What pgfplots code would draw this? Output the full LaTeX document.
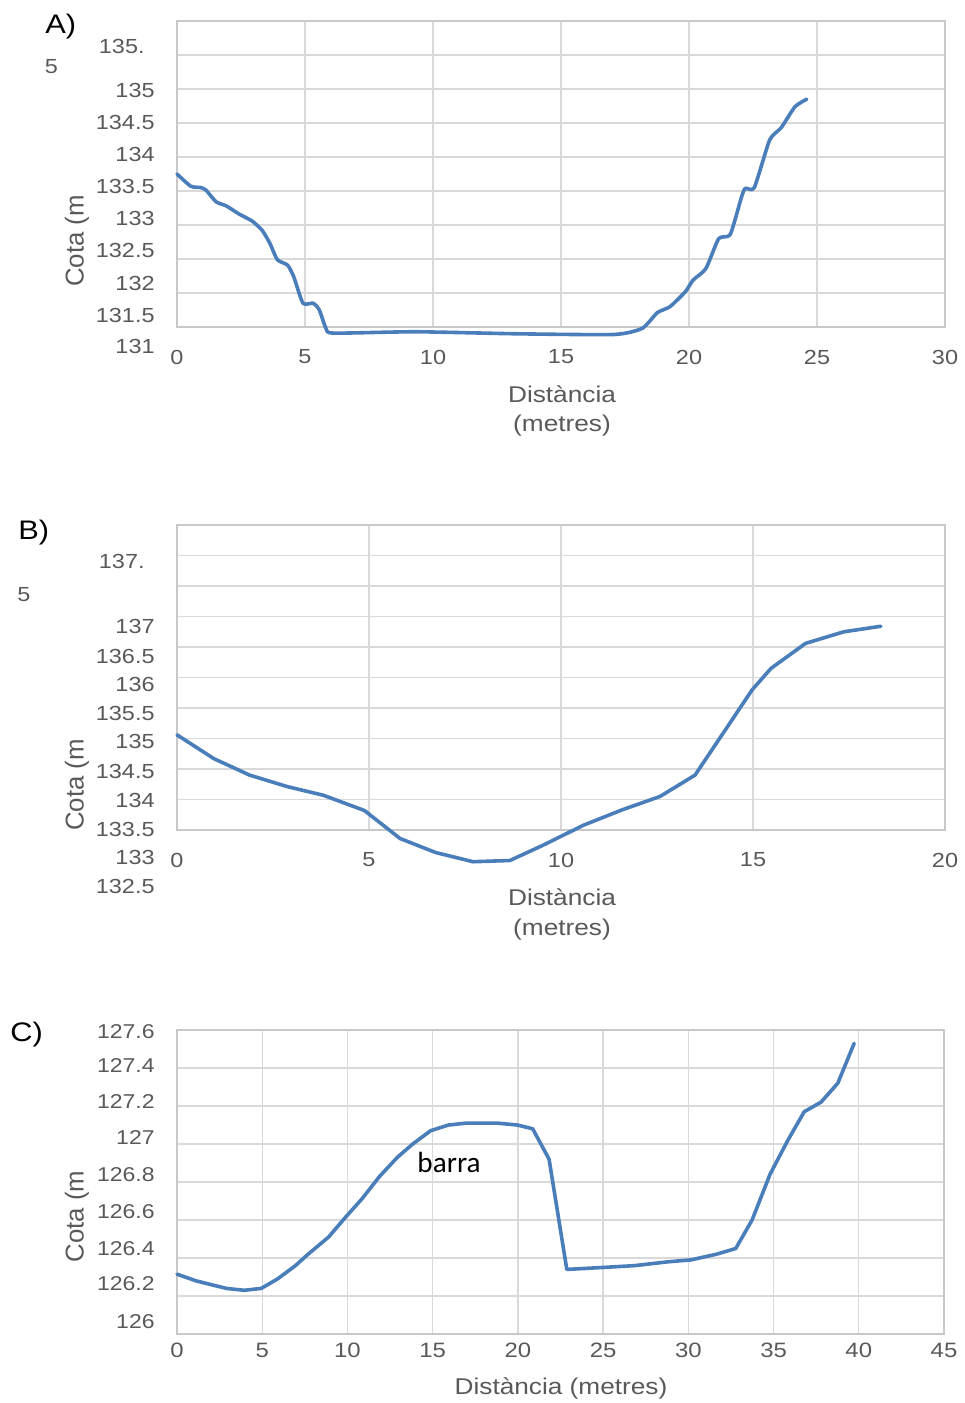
\documentclass[border=0pt]{standalone}
\usepackage{fontspec}
\setmainfont[FakeStretch=1.15]{Liberation Sans}
\newfontfamily\plainsans{Liberation Sans}
\newfontfamily\calib{Carlito}
\usepackage{pgfplots}
\pgfplotsset{compat=1.18}
\definecolor{txt}{HTML}{595959}
\definecolor{grd}{HTML}{D9D9D9}
\definecolor{frm}{HTML}{C8C8C8}
\definecolor{ln}{RGB}{74,126,187}
\newcommand{\fs}[1]{\fontsize{#1}{#1}\selectfont}

\pgfplotstableread{
x y
0 133.25
0.54 133.07
0.94 133.05
1.14 133.01
1.53 132.84
1.93 132.78
2.43 132.66
2.93 132.56
3.33 132.42
3.63 132.23
3.92 131.99
4.32 131.91
4.56 131.74
4.92 131.35
5.32 131.35
5.56 131.25
5.82 130.98
6.12 130.91
9.3 130.93
13.3 130.90
17.07 130.89
18.17 130.98
18.76 131.21
19.26 131.30
19.86 131.52
20.16 131.69
20.66 131.86
21.16 132.30
21.61 132.36
22.05 132.91
22.2 133.04
22.55 133.05
23.15 133.75
23.6 133.93
24.14 134.24
24.6 134.35
}\dataA

\pgfplotstableread{
x y
0 134.06
0.96 133.67
1.89 133.40
2.88 133.21
3.81 133.07
4.88 132.82
5.81 132.36
6.74 132.13
7.71 131.98
8.67 132.0
9.53 132.25
10.59 132.58
11.59 132.83
12.58 133.05
13.49 133.40
14.31 134.17
14.98 134.80
15.47 135.15
16.37 135.56
17.37 135.75
18.33 135.84
}\dataB

\pgfplotstableread{
x y
0 126.315
1.11 126.28
2.0 126.26
2.9 126.24
3.95 126.23
4.94 126.24
5.9 126.29
6.95 126.36
7.69 126.42
8.89 126.51
9.94 126.62
10.84 126.71
11.89 126.83
12.93 126.93
13.83 127.0
14.88 127.07
15.93 127.10
16.98 127.11
17.87 127.11
18.77 127.11
19.97 127.10
20.87 127.08
21.83 126.92
22.87 126.34
24.94 126.35
26.86 126.36
28.8 126.38
30.15 126.39
31.65 126.42
32.78 126.45
33.74 126.60
34.79 126.84
35.84 127.02
36.8 127.17
37.78 127.22
38.77 127.32
39.73 127.53
}\dataC

\pgfplotsset{
  prof/.style={
    scale only axis,
    anchor=north west,
    clip=false,
    axis line style={draw=frm, line width=0.65pt},
    grid=major,
    major grid style={draw=grd, line width=0.65pt},
    major tick length=0pt,
    yticklabel={\mbox{}},
    /pgf/number format/assume math mode=true,
    xticklabel style={anchor=center, yshift=-15pt, text=txt, font=\fs{10.2}, inner sep=0pt},
  },
  cur/.style={line width=1.8pt, color=ln, line join=round, line cap=round, no markers},
}

\begin{document}
\begin{tikzpicture}[x=0.5pt, y=-0.5pt]
\path[use as bounding box] (0,0) rectangle (964,1403);

% ---------- A ----------
\begin{axis}[prof, at={(88.5pt,-10.5pt)}, width=384pt, height=153pt,
  xmin=0, xmax=30, ymin=131, ymax=135.5,
  xtick={0,5,10,15,20,25,30},
  ytick={131,131.5,132,132.5,133,133.5,134,134.5,135,135.5}]
\addplot[cur, smooth, tension=0.35] table[x=x,y=y] {\dataA};
\end{axis}

% ---------- B ----------
\begin{axis}[prof, at={(88.5pt,-262.5pt)}, width=384pt, height=152.5pt,
  xmin=0, xmax=20, ymin=132.5, ymax=137.5,
  xtick={0,5,10,15,20},
  ytick={132.5,133,133.5,134,134.5,135,135.5,136,136.5,137,137.5}]
\addplot[cur] table[x=x,y=y] {\dataB};
\end{axis}

% ---------- C ----------
\begin{axis}[prof, at={(88.5pt,-515pt)}, width=383.5pt, height=152pt,
  xmin=0, xmax=45, ymin=126, ymax=127.6,
  xtick={0,5,10,15,20,25,30,35,40,45},
  ytick={126,126.2,126.4,126.6,126.8,127,127.2,127.4,127.6},
  xticklabel style={yshift=6.75pt, font=\fs{10.4}}]
\addplot[cur] table[x=x,y=y] {\dataC};
\node[anchor=base, font=\calib\fs{14.6}, text=black, inner sep=0pt] at (axis cs:15.96,126.85) {barra};
\end{axis}

\begin{scope}[every node/.style={inner sep=0pt, text=txt}]
% y labels A
\begin{scope}[every node/.append style={font=\fs{10.2}}]
\node[anchor=east] at (145,46.7) {135.};
\node at (51.5,66.7) {5};
\node[anchor=east] at (155,90) {135};
\node[anchor=east] at (155,122.7) {134.5};
\node[anchor=east] at (155,154.3) {134};
\node[anchor=east] at (155,186.7) {133.5};
\node[anchor=east] at (155,218.3) {133};
\node[anchor=east] at (155,250.7) {132.5};
\node[anchor=east] at (155,283.3) {132};
\node[anchor=east] at (155,315) {131.5};
\node[anchor=east] at (155,346.7) {131};
% y labels B
\node[anchor=east] at (145,561) {137.};
\node at (24,595) {5};
\node[anchor=east] at (155,626) {137};
\node[anchor=east] at (155,656) {136.5};
\node[anchor=east] at (155,684) {136};
\node[anchor=east] at (155,713.3) {135.5};
\node[anchor=east] at (155,741.7) {135};
\node[anchor=east] at (155,771.7) {134.5};
\node[anchor=east] at (155,800) {134};
\node[anchor=east] at (155,829.3) {133.5};
\node[anchor=east] at (155,857.3) {133};
\node[anchor=east] at (155,886.7) {132.5};
\end{scope}
% y labels C
\begin{scope}[every node/.append style={font=\fs{10}}]
\node[anchor=east] at (155,1031.7) {127.6};
\node[anchor=east] at (155,1066) {127.4};
\node[anchor=east] at (155,1101.7) {127.2};
\node[anchor=east] at (155,1137.7) {127};
\node[anchor=east] at (155,1175) {126.8};
\node[anchor=east] at (155,1211.7) {126.6};
\node[anchor=east] at (155,1249) {126.4};
\node[anchor=east] at (155,1284) {126.2};
\node[anchor=east] at (155,1321.7) {126};
\end{scope}
% axis titles
\begin{scope}[every node/.append style={font=\fs{11.4}}]
\node[anchor=base] at (562,402) {Distància};
\node[anchor=base] at (562,431) {(metres)};
\node[anchor=base] at (562,905) {Distància};
\node[anchor=base] at (562,935) {(metres)};
\node[anchor=base] at (561,1394) {Distància (metres)};
\end{scope}
\begin{scope}[every node/.append style={font=\plainsans\fs{12.9}, rotate=90}]
\node at (77,241) {Cota (m};
\node at (77,785) {Cota (m};
\node at (77,1216.5) {Cota (m};
\end{scope}
% panel letters
\begin{scope}[every node/.append style={font=\fs{13.4}, text=black, anchor=base west}]
\node at (45,33.3) {A)};
\node at (18,539.3) {B)};
\node at (10,1041.7) {C)};
\end{scope}
\end{scope}
\end{tikzpicture}
\end{document}
